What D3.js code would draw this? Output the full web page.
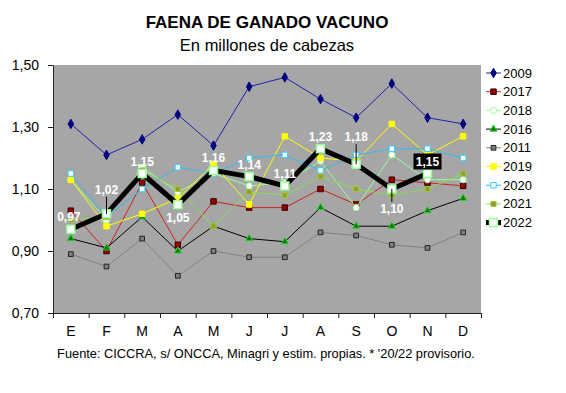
<!DOCTYPE html>
<html>
<head>
<meta charset="utf-8">
<script src="https://cdn.jsdelivr.net/npm/d3@7"></script>
<style>
  body { margin: 0; background: #fff; }
  svg { display: block; font-family: "Liberation Sans", Arial, sans-serif; }
</style>
</head>
<body>
<div id="root"></div>
<script>
// chart data
const months = ["E", "F", "M", "A", "M", "J", "J", "A", "S", "O", "N", "D"];
const yTicks = [0.70, 0.90, 1.10, 1.30, 1.50];
const years = ["2009", "2017", "2018", "2016", "2011", "2019", "2020", "2021", "2022"];

const v2009 = [1.31, 1.21, 1.26, 1.34, 1.24, 1.43, 1.46, 1.39, 1.33, 1.44, 1.33, 1.31];
const v2017 = [1.03, 0.90, 1.12, 0.92, 1.06, 1.04, 1.04, 1.10, 1.05, 1.13, 1.12, 1.11];
const v2018 = [1.13, 1.00, 1.17, 1.09, 1.15, 1.11, 1.12, 1.19, 1.04, 1.21, 1.13, 1.13];
const v2016 = [0.94, 0.91, 1.01, 0.90, 0.98, 0.94, 0.93, 1.04, 0.98, 0.98, 1.03, 1.07];
const v2011 = [0.89, 0.85, 0.94, 0.82, 0.90, 0.88, 0.88, 0.96, 0.95, 0.92, 0.91, 0.96];
const v2019 = [1.13, 0.98, 1.02, 1.07, 1.18, 1.05, 1.27, 1.20, 1.19, 1.31, 1.21, 1.27];
const v2020 = [1.15, 1.01, 1.10, 1.17, 1.15, 1.20, 1.21, 1.16, 1.21, 1.23, 1.23, 1.20];
const v2021 = [1.00, 1.01, 1.16, 1.10, 0.98, 1.09, 1.08, 1.14, 1.10, 1.08, 1.10, 1.15];
const v2022 = [0.97, 1.02, 1.15, 1.05, 1.16, 1.14, 1.11, 1.23, 1.18, 1.10, 1.15, null];

const values = [v2009, v2017, v2018, v2016, v2011, v2019, v2020, v2021, v2022];

// styles per series (same order as years)
const styles = [
  { line: "#2020a8", width: 1, shape: d3.symbolDiamond, size: 26, fill: "#000080", stroke: "#000080" },
  { line: "#cc2222", width: 1, shape: d3.symbolSquare, size: 30, fill: "#990000", stroke: "#330000" },
  { line: "#99ff99", width: 1, shape: d3.symbolCircle, size: 30, fill: "#ffffff", stroke: "#99ff99" },
  { line: "#000000", width: 1, shape: d3.symbolTriangle, size: 22, fill: "#008000", stroke: "#33cc33" },
  { line: "#808080", width: 1, shape: d3.symbolSquare, size: 22, fill: "#808080", stroke: "#222222" },
  { line: "#ffff00", width: 1, shape: d3.symbolSquare, size: 30, fill: "#ffff00", stroke: "#ffff00" },
  { line: "#33bbee", width: 1, shape: d3.symbolSquare, size: 30, fill: "#ffffff", stroke: "#33ccff" },
  { line: "#88dd55", width: 1, shape: d3.symbolSquare, size: 26, fill: "#999933", stroke: "#99cc33" },
  { line: "#000000", width: 5, shape: d3.symbolSquare, size: 64, fill: "#ffffff", stroke: "#99ff99" }
];

// label offsets for 2022 values (relative to the point)
const labelOffsets = [
  { dx: -2, dy: -12 }, { dx: 0, dy: -24, leader: true }, { dx: 0, dy: -12 }, { dx: 0, dy: 13 },
  { dx: 0, dy: -12 }, { dx: 0, dy: -12 }, { dx: 0, dy: -12 }, { dx: 0, dy: -12 },
  { dx: 0, dy: -27, leader: true }, { dx: 0, dy: 20, leader: true }, { dx: 0, dy: -12, box: true }
];

const width = 566, height = 393;
const margin = { left: 53, top: 65, right: 85, bottom: 80 };
const plotRight = width - margin.right;
const plotBottom = height - margin.bottom;

const svg = d3.select("#root").append("svg")
  .attr("width", width)
  .attr("height", height)
  .attr("viewBox", [0, 0, width, height]);

const x = d3.scaleBand().domain(d3.range(12)).range([margin.left, plotRight]);
const cx = (i) => x(i) + x.bandwidth() / 2;
const y = d3.scaleLinear().domain([0.7, 1.5]).range([plotBottom, margin.top]);

const locale = d3.formatLocale({ decimal: ",", thousands: ".", grouping: [3], currency: ["$", ""] });
const fmt = locale.format(".2f");

// titles
svg.append("text")
  .attr("x", 267).attr("y", 28)
  .attr("text-anchor", "middle")
  .attr("font-size", 17).attr("font-weight", "bold")
  .text("FAENA DE GANADO VACUNO");
svg.append("text")
  .attr("x", 267).attr("y", 51)
  .attr("text-anchor", "middle")
  .attr("font-size", 16.5)
  .text("En millones de cabezas");

// plot area
svg.append("rect")
  .attr("x", margin.left).attr("y", margin.top)
  .attr("width", plotRight - margin.left).attr("height", plotBottom - margin.top)
  .attr("fill", "#a6a6a6");

// axes
const yAxis = svg.append("g")
  .attr("transform", `translate(${margin.left},0)`)
  .call(d3.axisLeft(y).tickValues(yTicks).tickFormat(fmt).tickSize(5).tickSizeOuter(0).tickPadding(9));
yAxis.selectAll("text").attr("font-size", 14).attr("fill", "#000");

const xt = d3.scaleLinear().domain([0, 12]).range([margin.left, plotRight]);
svg.append("g")
  .attr("transform", `translate(0,${plotBottom})`)
  .call(d3.axisBottom(xt).tickValues(d3.range(13)).tickFormat("").tickSize(5).tickSizeOuter(0));

const xLabels = svg.append("g")
  .attr("transform", `translate(0,${plotBottom})`)
  .call(d3.axisBottom(x).tickFormat((i) => months[i]).tickSize(0).tickPadding(13));
xLabels.select(".domain").remove();
xLabels.selectAll("text").attr("font-size", 14).attr("fill", "#000");

svg.selectAll(".domain, .tick line").attr("stroke", "#222");

// series
const line = d3.line()
  .defined((d) => d != null)
  .x((d, i) => cx(i))
  .y((d) => y(d));

const series = svg.append("g").attr("class", "content");
values.forEach((vals, k) => {
  const s = styles[k];
  const g = series.append("g");
  g.append("path")
    .datum(vals)
    .attr("fill", "none")
    .attr("stroke", s.line)
    .attr("stroke-width", s.width)
    .attr("stroke-linejoin", "miter")
    .attr("d", line);
  g.selectAll("path.pt")
    .data(vals.map((v, i) => ({ v, i })).filter((d) => d.v != null))
    .join("path")
    .attr("class", "pt")
    .attr("transform", (d) => `translate(${cx(d.i)},${y(d.v)})`)
    .attr("d", d3.symbol().type(s.shape).size(s.size))
    .attr("fill", s.fill)
    .attr("stroke", s.stroke)
    .attr("stroke-width", k === 8 ? 1.5 : 1);
});

// 2022 data labels
const lab = svg.append("g").attr("font-size", 12).attr("font-weight", "bold");
v2022.forEach((v, i) => {
  if (v == null) return;
  const o = labelOffsets[i];
  const px = cx(i), py = y(v);
  const tx = px + o.dx, ty = py + o.dy;
  if (o.leader) {
    const y1 = o.dy < 0 ? ty + 7 : ty - 7;
    lab.append("line")
      .attr("x1", px).attr("x2", px)
      .attr("y1", y1).attr("y2", py)
      .attr("stroke", "#000").attr("stroke-width", 1);
  }
  if (o.box) {
    lab.append("rect")
      .attr("x", tx - 14).attr("y", ty - 8)
      .attr("width", 28).attr("height", 16)
      .attr("fill", "#000");
  }
  lab.append("text")
    .attr("x", tx).attr("y", ty)
    .attr("text-anchor", "middle")
    .attr("dominant-baseline", "central")
    .attr("fill", "#fff")
    .text(fmt(v));
});

// legend
const legend = svg.append("g").attr("font-size", 13);
years.forEach((name, k) => {
  const s = styles[k];
  const ly = 73 + k * 18.7;
  legend.append("line")
    .attr("x1", 486).attr("x2", 501)
    .attr("y1", ly).attr("y2", ly)
    .attr("stroke", s.line).attr("stroke-width", s.width);
  legend.append("path")
    .attr("transform", `translate(493.5,${ly})`)
    .attr("d", d3.symbol().type(s.shape).size(s.size))
    .attr("fill", s.fill)
    .attr("stroke", s.stroke)
    .attr("stroke-width", k === 8 ? 1.5 : 1);
  legend.append("text")
    .attr("x", 503).attr("y", ly)
    .attr("dominant-baseline", "central")
    .text(name);
});

// footer
svg.append("text")
  .attr("x", 266).attr("y", 358)
  .attr("text-anchor", "middle")
  .attr("font-size", 12.8)
  .text("Fuente: CICCRA, s/ ONCCA, Minagri y estim. propias. * '20/22 provisorio.");
</script>
</body>
</html>
